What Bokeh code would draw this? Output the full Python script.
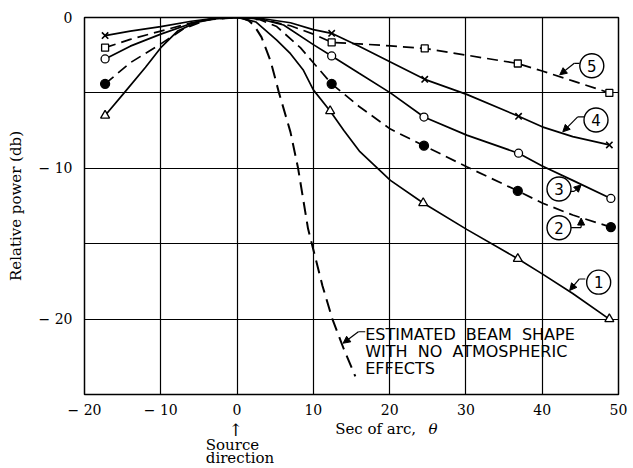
from bokeh.plotting import figure
from bokeh.models import FixedTicker, Label, Arrow, NormalHead, Range1d
from bokeh.layouts import column
from bokeh.core.properties import value
from bokeh.embed import file_html
from bokeh.resources import INLINE

# ---------------- data ----------------
# curve 1 (open triangles, solid)
c1_x = [-17.3, -14.8, -12.0, -10.0, -7.8, -5.0, -2.5, 0.0, 2.5, 5.2, 7.0, 8.7, 10.0, 12.2, 14.0, 16.1, 20.1, 24.4, 30.1, 36.8, 40.0, 44.0, 48.8]
c1_y = [-6.5, -5.0, -3.3, -2.0, -0.9, -0.25, -0.03, 0.0, -0.3, -1.5, -2.4, -3.5, -4.8, -6.2, -7.5, -8.9, -10.8, -12.3, -14.05, -16.0, -17.0, -18.3, -20.0]
m1_x = [-17.3, 12.2, 24.4, 36.8, 48.8]
m1_y = [-6.5, -6.2, -12.3, -16.0, -20.0]

# curve 2 (filled circles, dashed)
c2_x = [-17.3, -14.0, -10.0, -7.0, -4.0, 0.0, 3.0, 5.2, 8.3, 10.0, 12.4, 16.0, 20.1, 24.5, 30.1, 36.8, 40.0, 44.0, 49.0]
c2_y = [-4.4, -3.0, -1.75, -0.75, -0.15, 0.0, -0.15, -0.6, -2.0, -3.0, -4.4, -5.9, -7.4, -8.5, -9.9, -11.5, -12.3, -13.1, -13.9]
m2_x = [-17.3, 12.4, 24.5, 36.8, 49.0]
m2_y = [-4.4, -4.4, -8.5, -11.5, -13.9]

# curve 3 (open circles, solid)
c3_x = [-17.3, -14.0, -10.0, -6.0, -3.0, 0.0, 3.0, 6.1, 10.0, 12.4, 16.0, 20.1, 24.5, 30.1, 36.9, 40.0, 44.0, 49.0]
c3_y = [-2.75, -1.9, -1.1, -0.4, -0.1, 0.0, -0.1, -0.5, -1.8, -2.55, -3.7, -5.0, -6.6, -7.8, -9.0, -9.85, -10.8, -12.0]
m3_x = [-17.3, 12.4, 24.5, 36.9, 49.0]
m3_y = [-2.75, -2.55, -6.6, -9.0, -12.0]

# curve 4 (crosses, solid)
c4_x = [-17.3, -14.0, -10.0, -6.0, -3.0, 0.0, 3.0, 7.0, 10.0, 12.4, 16.0, 20.1, 24.6, 30.1, 36.9, 40.0, 44.0, 48.8]
c4_y = [-1.2, -0.9, -0.6, -0.25, -0.05, 0.0, -0.05, -0.35, -0.8, -1.05, -1.9, -2.95, -4.1, -5.1, -6.55, -7.25, -7.9, -8.45]
m4_x = [-17.3, 12.4, 24.6, 36.9, 48.8]
m4_y = [-1.2, -1.05, -4.1, -6.55, -8.45]

# curve 5 (open squares, dashed)
c5_x = [-17.3, -14.0, -10.0, -6.0, -3.0, 0.0, 3.0, 7.0, 10.0, 12.4, 16.0, 20.1, 24.6, 30.1, 36.8, 40.0, 44.0, 48.8]
c5_y = [-2.0, -1.45, -0.9, -0.35, -0.08, 0.0, -0.08, -0.55, -1.1, -1.65, -1.75, -1.88, -2.05, -2.5, -3.05, -3.55, -4.2, -5.0]
m5_x = [-17.3, 12.4, 24.6, 36.8, 48.8]
m5_y = [-2.0, -1.65, -2.05, -3.05, -5.0]

# estimated beam shape (long dashes)
beam_x = [0.5, 1.5, 2.2, 3.2, 4.4, 5.5, 7.0, 8.0, 9.3, 10.0, 11.2, 12.5, 14.0, 15.5]
beam_y = [0.0, -0.2, -0.5, -1.3, -2.9, -5.0, -7.6, -10.0, -14.0, -15.4, -17.8, -20.0, -22.0, -23.8]

x_ticks = [-20, -10, 0, 10, 20, 30, 40, 50]
y_ticks = [0, -10, -20]
x_grid = [-10, 0, 10, 20, 30, 40]
y_grid = [-5, -10, -15, -20]

# circled curve numbers
tag_text = ["1", "2", "3", "4", "5"]
tag_x = [47.4, 42.2, 42.2, 47.05, 46.5]
tag_y = [-17.55, -13.94, -11.37, -6.8, -3.2]

SERIF = "DejaVu Serif"
SANS = "DejaVu Sans"
NB = "\u00a0"

W = 633
H_TOP = 420
H_BOT = 468 - H_TOP

p = figure(width=W, height=H_TOP, x_range=Range1d(-20, 50), y_range=Range1d(-25, 0),
           output_backend="svg", toolbar_location=None,
           min_border_left=84, min_border_right=15, min_border_top=17, min_border_bottom=24)
p.background_fill_color = "white"
p.border_fill_color = "white"
p.outline_line_color = "black"
p.outline_line_width = 1.5

for ax in (p.xaxis, p.yaxis):
    ax.axis_line_color = None
    ax.major_tick_line_color = None
    ax.minor_tick_line_color = None
    ax.major_tick_out = 0
    ax.major_tick_in = 0
    ax.minor_tick_out = 0
    ax.minor_tick_in = 0
    ax.major_label_text_font = SERIF
    ax.major_label_text_font_size = "14px"
    ax.major_label_text_color = "black"

p.xaxis.ticker = FixedTicker(ticks=x_ticks)
p.xaxis.major_label_overrides = {-20: "\u2212 20", -10: "\u2212 10"}
p.xaxis.major_label_standoff = 7
p.yaxis.ticker = FixedTicker(ticks=y_ticks)
p.yaxis.major_label_overrides = {-20: "\u2212 20", -10: "\u2212 10"}
p.yaxis.major_label_standoff = 12
p.yaxis.axis_label = "Relative power (db)"
p.yaxis.axis_label_text_font = SERIF
p.yaxis.axis_label_text_font_size = "15px"
p.yaxis.axis_label_text_font_style = "normal"
p.yaxis.axis_label_text_color = "black"
p.yaxis.axis_label_standoff = 11

p.xgrid.ticker = FixedTicker(ticks=x_grid)
p.ygrid.ticker = FixedTicker(ticks=y_grid)
for g in (p.xgrid, p.ygrid):
    g.grid_line_color = "black"
    g.grid_line_width = 1.2
    g.grid_line_alpha = 1.0

LW = 1.7
p.line(beam_x, beam_y, line_color="black", line_width=2.0, line_dash="13 7")
p.line(c1_x, c1_y, line_color="black", line_width=LW)
p.line(c2_x, c2_y, line_color="black", line_width=LW, line_dash="11 6")
p.line(c3_x, c3_y, line_color="black", line_width=LW)
p.line(c4_x, c4_y, line_color="black", line_width=LW)
p.line(c5_x, c5_y, line_color="black", line_width=LW, line_dash="11 6")

p.scatter(m1_x, m1_y, marker="triangle", size=9, fill_color="white", line_color="black", line_width=1.3)
p.scatter(m2_x, m2_y, marker="circle", size=9, fill_color="black", line_color="black", line_width=1.3)
p.scatter(m3_x, m3_y, marker="circle", size=8, fill_color="white", line_color="black", line_width=1.3)
p.scatter(m4_x, m4_y, marker="x", size=9, line_color="black", line_width=1.6)
p.scatter(m5_x, m5_y, marker="square", size=7, fill_color="white", line_color="black", line_width=1.3)

# leaders of the circled numbers (tail, then arrow to the curve)
tails_x = [[45.65, 44.87], [43.6, 45.1], [43.6, 44.2], [45.5, 44.65], [44.9, 44.2], [16.8, 15.9]]
tails_y = [[-17.34, -17.34], [-13.93, -13.93], [-11.53, -11.53], [-6.59, -6.59], [-3.04, -3.04], [-20.84, -20.84]]
p.multi_line(tails_x, tails_y, line_color="black", line_width=1.2)
arrows = [((44.87, -17.34), (43.6, -18.1)),
          ((45.1, -13.93), (45.1, -13.3)),
          ((44.2, -11.53), (45.1, -11.1)),
          ((44.65, -6.59), (42.7, -7.58)),
          ((44.2, -3.04), (42.3, -3.8)),
          ((15.9, -20.84), (13.9, -21.6))]
for (xs, ys), (xe, ye) in arrows:
    p.add_layout(Arrow(x_start=xs, y_start=ys, x_end=xe, y_end=ye, line_color="black", line_width=1.2,
                       end=NormalHead(size=7, fill_color="black", line_color="black", line_width=1)))

p.scatter(tag_x, tag_y, marker="circle", size=24, fill_color="white", line_color="black", line_width=1.4)
p.text(tag_x, tag_y, text=tag_text, text_align="center", text_baseline="middle",
       text_font=value(SANS), text_font_size="15px", text_color="black")

beam_lines = ["ESTIMATED" + NB + " BEAM" + NB + " SHAPE",
              "WITH" + NB + " NO" + NB + " ATMOSPHERIC",
              "EFFECTS"]
for i, t in enumerate(beam_lines):
    p.add_layout(Label(x=16.8, y=-21.0 - 1.15 * i, text=t, text_align="left", text_baseline="middle",
                       text_font=SANS, text_font_size="16px", text_color="black"))

# ---------- strip below the frame for the axis title and the source note ----------
p2 = figure(width=W, height=H_BOT, x_range=p.x_range, y_range=Range1d(0, H_BOT),
            output_backend="svg", toolbar_location=None,
            x_axis_location=None, y_axis_location=None,
            min_border_left=84, min_border_right=15, min_border_top=0, min_border_bottom=0)
p2.outline_line_color = None
p2.background_fill_color = "white"
p2.border_fill_color = "white"
p2.grid.grid_line_color = None

def below(text, x, y_img, align="left", style="normal", size="15px"):
    p2.add_layout(Label(x=x, y=468 - y_img, text=text, text_align=align, text_baseline="middle",
                        text_font=SERIF, text_font_size=size, text_font_style=style, text_color="black"))

below("Sec of arc,", 12.86, 428)
below("\u03b8", 25.1, 428, style="italic")
below("\u2191", -0.2, 429, align="center", size="17px")
below("Source", -4.1, 444)
below("direction", -4.1, 457)

layout = column(p, p2, spacing=0)
open("out.html", "w").write(file_html(layout, INLINE))
